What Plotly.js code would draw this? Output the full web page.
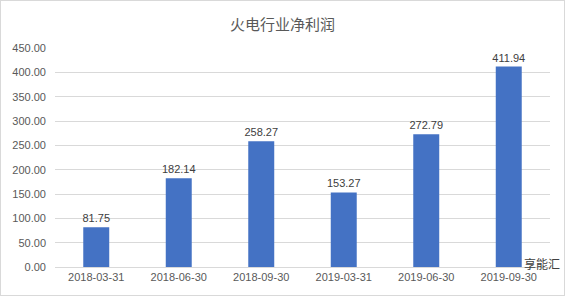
<!DOCTYPE html>
<html>
<head>
<meta charset="utf-8">
<script src="https://cdn.plot.ly/plotly-3.0.1.min.js"></script>
<style>
html,body{margin:0;padding:0;background:#fff;}
#chart{width:565px;height:296px;box-sizing:border-box;border:1px solid #d9d9d9;}
</style>
</head>
<body>
<div id="chart"></div>
<script>
const categories = ["2018-03-31","2018-06-30","2018-09-30","2019-03-31","2019-06-30","2019-09-30"];
const netProfit = [81.75,182.14,258.27,153.27,272.79,411.94];
const yTickVals = [0,50,100,150,200,250,300,350,400,450];
const yTickText = yTickVals.map(v => v.toFixed(2));

const trace = {
  type: 'bar',
  x: categories,
  y: netProfit,
  marker: {color: '#4472c4'},
  text: netProfit.map(v => v.toFixed(2)),
  textposition: 'outside',
  constraintext: 'none',
  cliponaxis: false,
  textfont: {family: 'Liberation Sans, Arial, sans-serif', size: 11, color: '#404040'},
  hoverinfo: 'none'
};

const layout = {
  width: 563, height: 294,
  margin: {l: 54, r: 14, t: 47, b: 28},
  paper_bgcolor: '#ffffff',
  plot_bgcolor: '#ffffff',
  bargap: 0.685,
  showlegend: false,
  title: {
    text: '火电行业净利润',
    font: {family: 'Noto Sans CJK SC, sans-serif', size: 15, color: '#595959'},
    x: 0.5, xanchor: 'center', y: 0.92, yanchor: 'middle'
  },
  xaxis: {
    type: 'category',
    tickfont: {family: 'Liberation Sans, Arial, sans-serif', size: 11, color: '#595959'},
    showgrid: false,
    showline: true, linecolor: '#d9d9d9', linewidth: 1,
    ticks: '',
    fixedrange: true
  },
  yaxis: {
    range: [0, 450],
    tickvals: yTickVals,
    ticktext: yTickText,
    tickfont: {family: 'Liberation Sans, Arial, sans-serif', size: 11, color: '#595959'},
    showgrid: true, gridcolor: '#d9d9d9', gridwidth: 1,
    zeroline: false,
    showline: false,
    ticks: '',
    ticklabelstandoff: 8,
    fixedrange: true
  },
  annotations: [{
    text: '享能汇',
    xref: 'paper', yref: 'paper',
    x: 1.025, y: 0.015, xanchor: 'right', yanchor: 'middle',
    showarrow: false,
    font: {family: 'Noto Sans CJK SC, sans-serif', size: 12, color: '#404040'}
  }]
};

Plotly.newPlot('chart', [trace], layout, {displayModeBar: false, staticPlot: true});
</script>
</body>
</html>
